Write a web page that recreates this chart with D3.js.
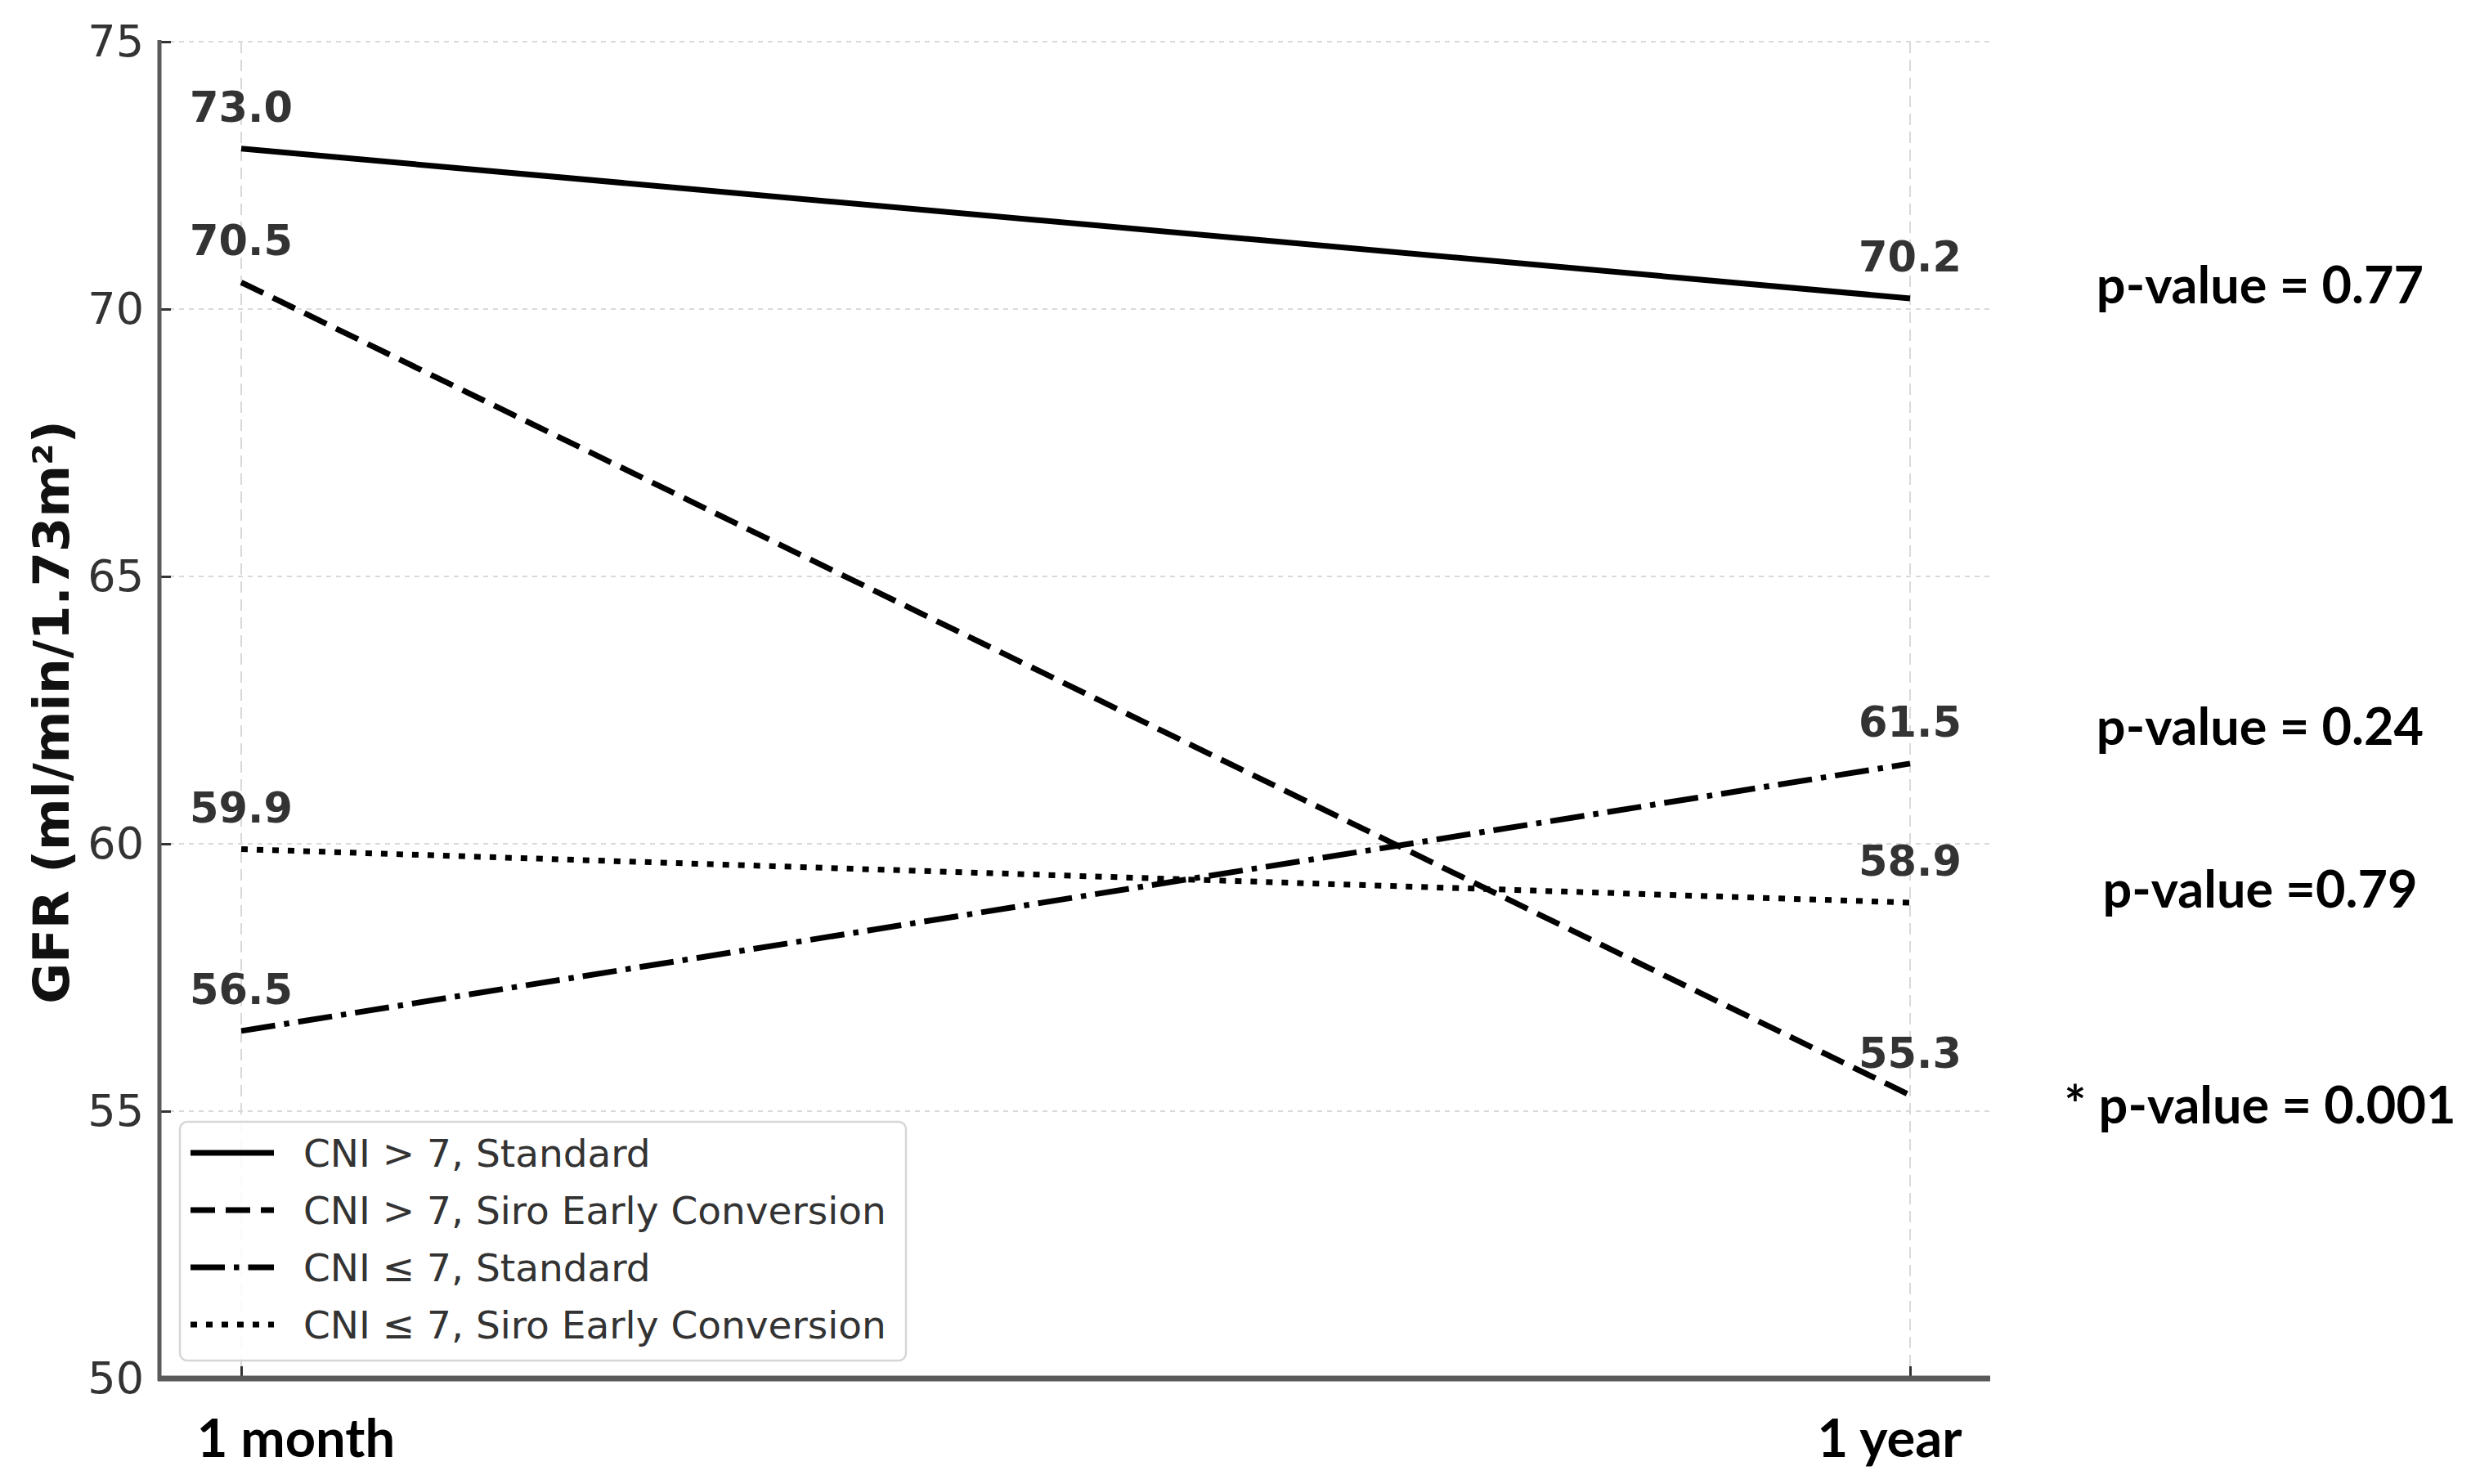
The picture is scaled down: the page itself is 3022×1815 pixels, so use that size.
<!DOCTYPE html>
<html>
<head>
<meta charset="utf-8">
<script src="https://cdn.jsdelivr.net/npm/d3@7"></script>
<style>
	body{margin:0;background:#fff;}
	svg{display:block;}
</style>
</head>
<body>
<svg id="chart"></svg>
<script>
'use strict'
// values
var timepoints = ['1 month', '1 year'];
var seriesNames = ['CNI > 7, Standard', 'CNI > 7, Siro Early Conversion', 'CNI \u2264 7, Standard', 'CNI \u2264 7, Siro Early Conversion'];
var cniHighStandard = [73.0, 70.2];
var cniHighSiro = [70.5, 55.3];
var cniLowStandard = [56.5, 61.5];
var cniLowSiro = [59.9, 58.9];
var yTicks = [50, 55, 60, 65, 70, 75];
var pValueLabels = ['p-value = 0.77', 'p-value = 0.24', 'p-value =0.79', '* p-value = 0.001'];

// layout
var W = 3022, H = 1815;
var plot = {left: 195, right: 2434, top: 51, bottom: 1686};
var pLevels = [70.1, 61.85, 58.8, 54.77]; // where the p-value notes sit, in y units
var dashes = ['none', '30,13', '42,11,6.5,11', '8,11'];

var series = [cniHighStandard, cniHighSiro, cniLowStandard, cniLowSiro].map(function(vals, i){
	return {name: seriesNames[i], dash: dashes[i], points: vals.map(function(v, j){ return {t: timepoints[j], v: v}; })};
});

var svg = d3.select('#chart').attr('width', W).attr('height', H).attr('viewBox', '0 0 '+W+' '+H);

var x = d3.scalePoint().domain(timepoints).range([295, 2336]);
var y = d3.scaleLinear().domain([50, 75]).range([plot.bottom, plot.top]);

// grid
svg.append('g').selectAll('line').data(yTicks.slice(1)).join('line')
	.attr('x1', plot.left).attr('x2', plot.right)
	.attr('y1', y).attr('y2', y)
	.attr('stroke', '#d9d9d9').attr('stroke-width', 2).attr('stroke-dasharray', '6,6');
svg.append('g').selectAll('line').data(timepoints).join('line')
	.attr('x1', x).attr('x2', x)
	.attr('y1', plot.top).attr('y2', plot.bottom)
	.attr('stroke', '#d9d9d9').attr('stroke-width', 2).attr('stroke-dasharray', '14,8');

// axes
var yAxis = svg.append('g').attr('transform', 'translate('+plot.left+',0)')
	.call(d3.axisLeft(y).tickValues(yTicks).tickSize(-14).tickPadding(19));
yAxis.select('.domain').remove();
yAxis.selectAll('line').attr('stroke', '#333').attr('stroke-width', 3);
yAxis.selectAll('text').attr('font-family', 'DejaVu Sans').attr('font-size', 54).attr('fill', '#333');

var xAxis = svg.append('g').attr('transform', 'translate(0,'+plot.bottom+')')
	.call(d3.axisBottom(x).tickSize(-15).tickFormat(''));
xAxis.select('.domain').remove();
xAxis.selectAll('line').attr('stroke', '#333').attr('stroke-width', 3);

svg.append('line').attr('x1', plot.left).attr('x2', plot.left).attr('y1', plot.top - 2).attr('y2', plot.bottom + 3)
	.attr('stroke', '#5a5a5a').attr('stroke-width', 5);
svg.append('line').attr('x1', plot.left - 2).attr('x2', plot.right).attr('y1', plot.bottom).attr('y2', plot.bottom)
	.attr('stroke', '#5a5a5a').attr('stroke-width', 7);

// series lines
var line = d3.line().x(function(d){ return x(d.t); }).y(function(d){ return y(d.v); });
svg.append('g').selectAll('path').data(series).join('path')
	.attr('d', function(d){ return line(d.points); })
	.attr('fill', 'none').attr('stroke', '#000').attr('stroke-width', 7)
	.attr('stroke-dasharray', function(d){ return d.dash; });

// value labels
svg.append('g').selectAll('text').data(series.flatMap(function(s){ return s.points; })).join('text')
	.attr('x', function(d){ return x(d.t); })
	.attr('y', function(d){ return y(d.v) - 33; })
	.attr('text-anchor', 'middle')
	.attr('font-family', 'DejaVu Sans').attr('font-weight', 'bold').attr('font-size', 51).attr('fill', '#333')
	.text(function(d){ return d.v.toFixed(1); });

// x category labels (placed a little off their ticks, as in the figure)
var xLabelShift = [67, -25];
svg.append('g').selectAll('text').data(timepoints).join('text')
	.attr('x', function(d, i){ return x(d) + xLabelShift[i]; })
	.attr('y', 1782)
	.attr('text-anchor', 'middle')
	.attr('font-family', 'Lato').attr('font-weight', 'bold').attr('font-size', 65).attr('fill', '#000')
	.text(function(d){ return d; });

// y title
svg.append('text')
	.attr('transform', 'translate(84,871) rotate(-90)')
	.attr('text-anchor', 'middle')
	.attr('font-family', 'DejaVu Sans').attr('font-weight', 'bold').attr('font-size', 61).attr('fill', '#111')
	.text('GFR (ml/min/1.73m\u00b2)');

// p-value notes
svg.append('g').selectAll('text').data(pValueLabels).join('text')
	.attr('x', 2764)
	.attr('y', function(d, i){ return y(pLevels[i]); })
	.attr('text-anchor', 'middle')
	.attr('font-family', 'Lato').attr('font-weight', 'bold').attr('font-size', 63).attr('fill', '#000')
	.text(function(d){ return d; });

// legend
var legend = svg.append('g');
legend.append('rect')
	.attr('x', 220).attr('y', 1372).attr('width', 888).attr('height', 292).attr('rx', 9)
	.attr('fill', '#fff').attr('fill-opacity', 0.85).attr('stroke', '#d6d6d6').attr('stroke-width', 2.5);
var rows = legend.selectAll('g.row').data(series).join('g').attr('class', 'row')
	.attr('transform', function(d, i){ return 'translate(0,'+(1410 + i * 70)+')'; });
rows.append('line').attr('x1', 233).attr('x2', 335).attr('y1', 0).attr('y2', 0)
	.attr('stroke', '#000').attr('stroke-width', 7)
	.attr('stroke-dasharray', function(d){ return d.dash; });
rows.append('text').attr('x', 371).attr('dy', '0.36em')
	.attr('font-family', 'DejaVu Sans').attr('font-size', 47).attr('fill', '#333')
	.text(function(d){ return d.name; });
</script>
</body>
</html>
